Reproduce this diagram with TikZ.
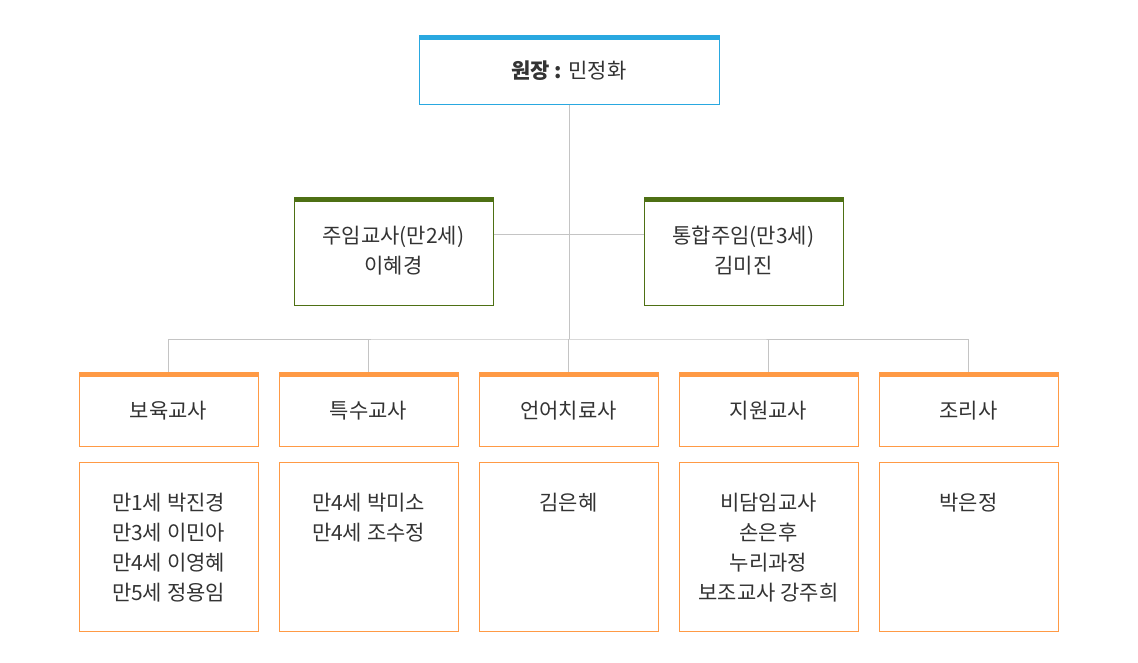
\documentclass[tikz,border=0pt]{standalone}
\usepackage{fontspec}
\setmainfont{Noto Sans CJK KR}
\usepackage{tikz}
\usetikzlibrary{positioning}
\definecolor{bossblue}{HTML}{29A8E0}
\definecolor{leadgreen}{HTML}{4E7014}
\definecolor{staffor}{HTML}{FF9A45}
\definecolor{linegray}{HTML}{C4C4C4}
\definecolor{txtgray}{HTML}{333333}
\tikzset{
	topbar/.style={path picture={\fill[#1] (path picture bounding box.north west) rectangle ([yshift=-4.5pt]path picture bounding box.north east);}},
	bossnode/.style={rectangle, draw=bossblue, line width=1pt, topbar=bossblue, minimum width=300pt, minimum height=69pt, text height=1.8em, text depth=0pt, text=txtgray},
	leadnode/.style={rectangle, draw=leadgreen, line width=1pt, topbar=leadgreen, minimum width=199pt, minimum height=108pt, align=center, text=txtgray},
	headnode/.style={rectangle, draw=staffor, line width=1pt, topbar=staffor, minimum width=179pt, minimum height=74pt, text height=1.8em, text depth=0pt, text=txtgray},
	listnode/.style={rectangle, draw=staffor, line width=1pt, minimum width=179pt, minimum height=169pt},
	listtext/.style={anchor=north, align=center, inner sep=0pt, text=txtgray},
	conn/.style={draw=linegray, line width=1pt}
}

\begin{document}
\begin{tikzpicture}[x=1pt, y=-1pt, font=\fontsize{21}{30}\selectfont]
	\useasboundingbox (0,0) rectangle (1138,662);

	\node[bossnode] at (569,69.5) (boss) {\textbf{원장 :} 민정화};

	\node[leadnode] at (393.5,251) (lead1) {주임교사(만2세)\\이혜경};
	\node[leadnode] at (743.5,251) (lead2) {통합주임(만3세)\\김미진};

	\node[headnode] at (168.5,409) (s1) {보육교사};
	\node[headnode] at (368.5,409) (s2) {특수교사};
	\node[headnode] at (568.5,409) (s3) {언어치료사};
	\node[headnode] at (768.5,409) (s4) {지원교사};
	\node[headnode] at (968.5,409) (s5) {조리사};

	\node[listnode] at (168.5,546.5) (l1) {};
	\node[listnode] at (368.5,546.5) (l2) {};
	\node[listnode] at (568.5,546.5) (l3) {};
	\node[listnode] at (768.5,546.5) (l4) {};
	\node[listnode] at (968.5,546.5) (l5) {};

	\node[listtext] at (168.5,493) (n1) {만1세 박진경\\만3세 이민아\\만4세 이영혜\\만5세 정용임};
	\node[listtext] at (368.5,493) (n2) {만4세 박미소\\만4세 조수정};
	\node[listtext] at (568.5,493) (n3) {김은혜};
	\node[listtext] at (768.5,493) (n4) {비담임교사\\손은후\\누리과정\\보조교사 강주희};
	\node[listtext] at (968.5,493) (n5) {박은정};

	\coordinate (hub) at (569,339);
	\coordinate (midrow) at (569,234);
	\draw[conn] (boss.south) -- (hub);
	\draw[conn] (lead1.east |- midrow) -- (lead2.west |- midrow);
	\draw[conn] (s1.north) |- (hub) -| (s5.north);
	\draw[conn] (s2.north) -- (s2.north |- hub);
	\draw[conn] (s3.north) -- (s3.north |- hub);
	\draw[conn] (s4.north) -- (s4.north |- hub);
\end{tikzpicture}
\end{document}
